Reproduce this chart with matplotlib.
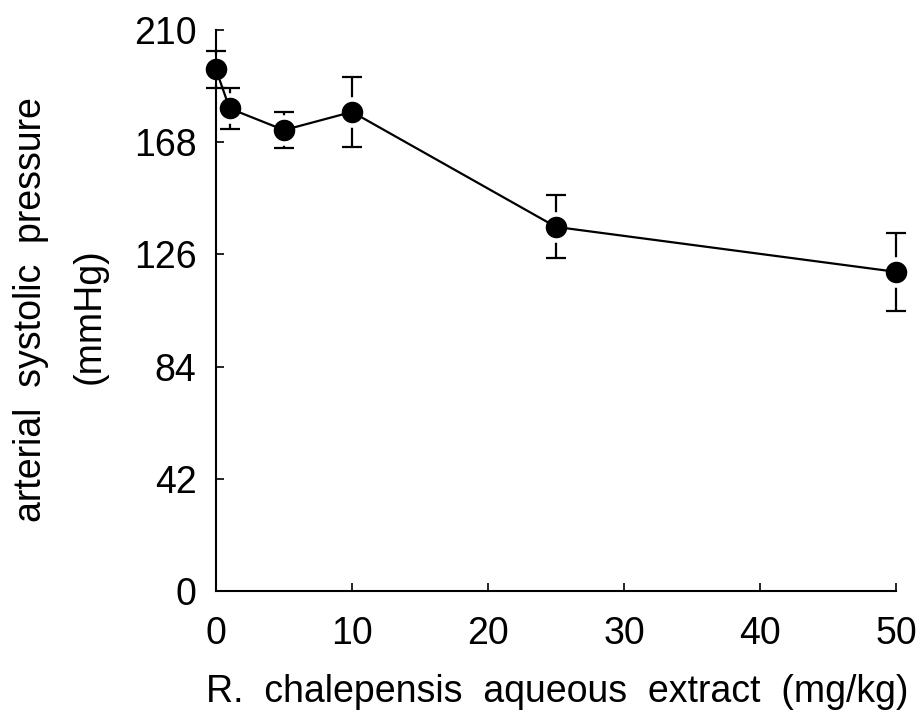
import matplotlib
matplotlib.use("Agg")
import matplotlib.pyplot as plt

dose = [0, 1, 5, 10, 25, 50]
pressure = [195.2, 180.6, 172.5, 179.3, 136.3, 119.5]
err = [6.8, 7.6, 6.8, 13.1, 11.8, 14.5]
yticks = [0, 42, 84, 126, 168, 210]
xticks = [0, 10, 20, 30, 40, 50]

plt.rcParams['font.family'] = ['Liberation Sans', 'DejaVu Sans']

fig = plt.figure(figsize=(9.18, 7.22), dpi=100)
ax = fig.add_axes([0.2353, 0.1809, 0.7407, 0.7778])

# error bars (bottom layer)
ax.errorbar(dose, pressure, yerr=err, fmt='none', ecolor='black',
            elinewidth=1.6, capsize=7, capthick=1.6, clip_on=False, zorder=1)
# white halo around markers to leave a small gap at the error bars
ax.plot(dose, pressure, 'o', color='white', markersize=21, linestyle='none',
        clip_on=False, zorder=2)
# connecting line and markers
ax.plot(dose, pressure, color='black', lw=1.6, clip_on=False, zorder=3)
ax.plot(dose, pressure, 'o', color='black', markersize=14.5, linestyle='none',
        clip_on=False, zorder=4)

ax.set_xlim(0, 50)
ax.set_ylim(0, 210)
ax.set_xticks(xticks)
ax.set_yticks(yticks)
ax.spines['top'].set_visible(False)
ax.spines['right'].set_visible(False)
for s in ['left', 'bottom']:
    ax.spines[s].set_linewidth(1.5)
ax.tick_params(direction='in', length=6, width=1.2, labelsize=27)
ax.tick_params(axis='y', pad=14)
ax.tick_params(axis='x', pad=18)

fig.text(0.034, 0.571, 'arterial  systolic  pressure', rotation=90,
         ha='center', va='center', fontsize=27)
fig.text(0.098, 0.562, '(mmHg)', rotation=90, ha='center', va='center', fontsize=27)
fig.text(0.607, 0.042, 'R.  chalepensis  aqueous  extract  (mg/kg)', ha='center',
         va='center', fontsize=27)

fig.savefig('out.png', dpi=100)
